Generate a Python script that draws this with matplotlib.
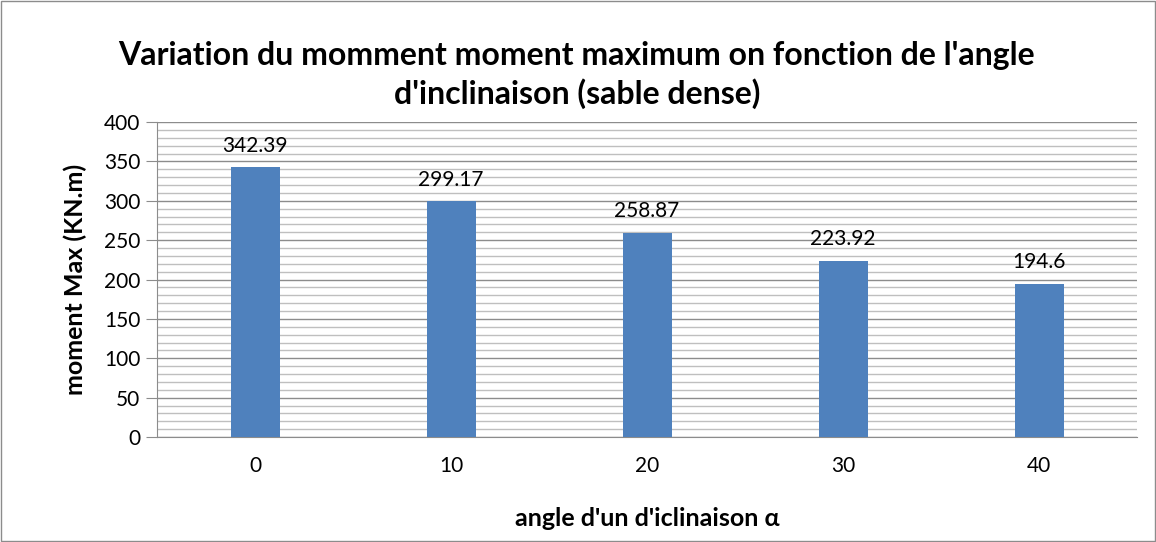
import numpy as np
import matplotlib
matplotlib.use("Agg")
import matplotlib.pyplot as plt
from matplotlib.ticker import MultipleLocator

# moment max vs inclination angle (dense sand)
angles = ["0", "10", "20", "30", "40"]
moment_max = [342.39, 299.17, 258.87, 223.92, 194.6]
value_labels = ["342.39", "299.17", "258.87", "223.92", "194.6"]

plt.rcParams["font.family"] = ["Lato", "DejaVu Sans"]

fig = plt.figure(figsize=(11.56, 5.42), dpi=100)
ax = fig.add_axes([157 / 1156, 1 - 437 / 542, 980 / 1156, 315 / 542])

x = np.arange(len(angles))
bars = ax.bar(x, moment_max, width=0.25, color="#4f81bd", zorder=3)
for rect, lab in zip(bars, value_labels):
    ax.text(rect.get_x() + rect.get_width() / 2, rect.get_height() + 15, lab,
            ha="center", va="bottom", fontsize=15, color="black")

ax.set_xlim(-0.5, len(angles) - 0.5)
ax.set_ylim(0, 400)
ax.yaxis.set_major_locator(MultipleLocator(50))
ax.yaxis.set_minor_locator(MultipleLocator(10))
ax.grid(which="major", axis="y", color="#8c8c8c", lw=1.0, zorder=0)
ax.grid(which="minor", axis="y", color="#bfbfbf", lw=1.0, zorder=0)
ax.set_xticks(x)
ax.set_xticklabels(angles)
ax.tick_params(axis="x", length=0, labelsize=15, pad=14)
ax.tick_params(axis="y", which="major", length=8, color="#8c8c8c", labelsize=15, pad=4)
ax.tick_params(axis="y", which="minor", length=0)
for side in ("top", "right"):
    ax.spines[side].set_visible(False)
ax.spines["left"].set_color("#8c8c8c")
ax.spines["bottom"].set_color("#8c8c8c")

ax.set_ylabel("moment Max (KN.m)", fontsize=18, fontweight="bold", labelpad=12)
ax.set_xlabel("angle d'un d'iclinaison α", fontsize=18, fontweight="bold", labelpad=22)

fig.text(0.499, 0.862,
         "Variation du momment moment maximum on fonction de l'angle\nd'inclinaison (sable dense)",
         ha="center", va="center", fontsize=23, fontweight="bold", linespacing=1.3)

# thin frame around the whole chart
fig.patches.append(plt.Rectangle((0.001, 0.001), 0.998, 0.997, transform=fig.transFigure,
                                 fill=False, ec="#8c8c8c", lw=1.0))

fig.savefig("out.png", dpi=100)
